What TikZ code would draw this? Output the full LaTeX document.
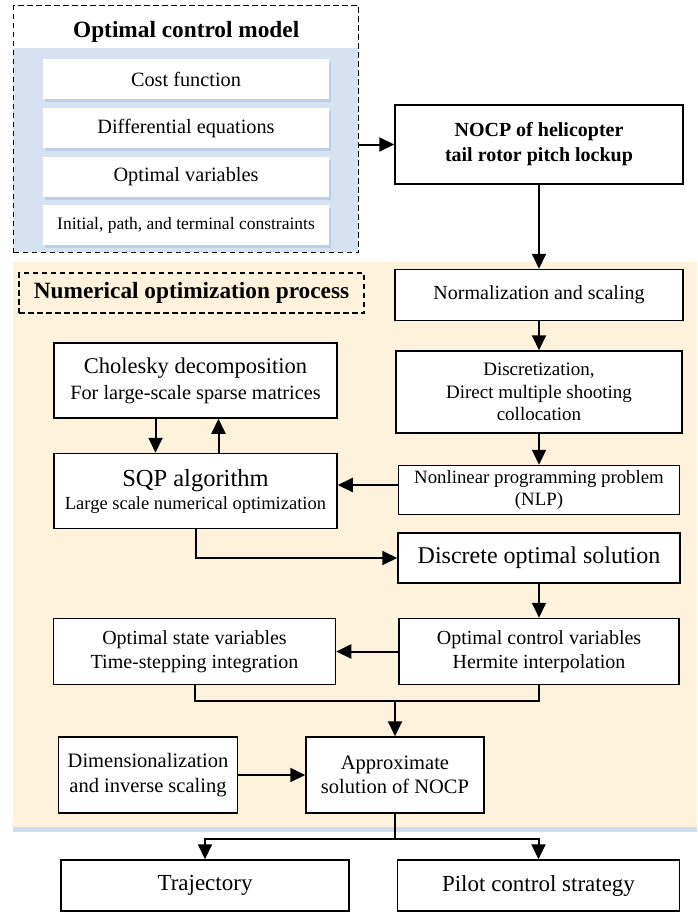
\documentclass[tikz,border=0pt]{standalone}
\usepackage{fontspec}
\setmainfont{Liberation Serif}
\usepackage{xcolor}
\usetikzlibrary{arrows.meta,positioning,calc,shadows,backgrounds}
\definecolor{ModelBlue}{HTML}{D6E1F2}
\definecolor{ProcessCream}{HTML}{FFF2DC}
\definecolor{ShadowBlue}{HTML}{BCCDE8}
\tikzset{
    % Sharp boxes of the flow
    stepbox/.style={
        rectangle,
        draw=black,
        line width=1.5pt,
        fill=white,
        text=black,
        minimum width=283pt,
        minimum height=50pt,
        inner sep=2pt,
        align=center,
        font=\fontsize{20}{23.5}\selectfont
    },
    stepbox bold/.style={
        stepbox,
        font=\fontsize{20}{25}\selectfont\bfseries
    },
    stepbox large/.style={
        stepbox,
        font=\fontsize{23}{27}\selectfont
    },
    model item/.style={
        rectangle,
        draw=none,
        fill=white,
        minimum width=286pt,
        minimum height=40pt,
        inner sep=2pt,
        font=\fontsize{20.3}{24}\selectfont,
        drop shadow={shadow xshift=1.5pt, shadow yshift=-3pt, fill=ShadowBlue, opacity=0.9}
    },
    dashed frame/.style={
        rectangle,
        draw=black,
        line width=1.4pt,
        dash pattern=on 5.5pt off 3.5pt,
        inner sep=2pt,
        font=\fontsize{23.3}{27}\selectfont\bfseries
    },
    area/.style={
        rectangle,
        draw=none,
        inner sep=0pt,
        anchor=north west
    },
    arrow/.style={
        -{Triangle[length=15pt,width=14pt]},
        line width=2pt,
        color=black
    },
    link/.style={
        line width=2pt,
        color=black
    }
}

\begin{document}
\begin{tikzpicture}[x=1pt, y=-1pt]
    \useasboundingbox (0,0) rectangle (697,916);

    % Shaded areas
    \begin{scope}[on background layer]
        \node[area, fill=ModelBlue, minimum width=345pt, minimum height=204pt] (modelarea) at (13,48) {};
        \node[area, fill=ProcessCream, minimum width=684pt, minimum height=565pt,
              drop shadow={shadow xshift=0pt, shadow yshift=-5pt, fill=ShadowBlue, opacity=0.7}] (procarea) at (13,262) {};
    \end{scope}

    % Optimal control model
    \node[dashed frame, anchor=north west, minimum width=345pt, minimum height=247pt] (model) at (13,5) {};
    \node[font=\fontsize{23.3}{27}\selectfont\bfseries, inner sep=2pt, below=14pt of model.north] (modeltitle)
          {Optimal control model};
    \node[model item] (cost) at (186,79) {Cost function};
    \node[model item, below=9pt of cost] (diffeq) {Differential equations};
    \node[model item, below=8pt of diffeq] (optvar) {Optimal variables};
    \node[model item, below=8pt of optvar, font=\fontsize{17.5}{21}\selectfont] (constr)
          {Initial, path, and terminal constraints};

    % Right column
    \node[stepbox bold, minimum width=288pt, minimum height=79pt] (nocp) at (539,144.5)
          {NOCP of helicopter\\tail rotor pitch lockup};
    \node[stepbox, minimum width=288pt, minimum height=51pt, below=84pt of nocp] (norm)
          {Normalization and scaling};
    \node[stepbox, minimum width=286pt, minimum height=82pt, below=29pt of norm,
          font=\fontsize{19}{22.5}\selectfont] (discr)
          {Discretization,\\Direct multiple shooting\\collocation};
    \node[stepbox, minimum width=281pt, minimum height=49pt, below=31pt of discr,
          font=\fontsize{18.8}{22}\selectfont] (nlp)
          {Nonlinear programming problem\\(NLP)};
    \node[stepbox large, minimum width=282pt, minimum height=50pt, below=17pt of nlp,
          font=\fontsize{24}{28}\selectfont] (disc)
          {Discrete optimal solution};
    \node[stepbox, minimum width=280pt, minimum height=66pt, below=34pt of disc] (optctrl)
          {Optimal control variables\\Hermite interpolation};

    % Numerical optimization process
    \node[dashed frame, minimum width=345pt, minimum height=40pt] (numlabel) at (191.5,293)
          {Numerical optimization process};
    \node[stepbox, minimum height=75pt, font=\fontsize{20.3}{26}\selectfont] (chol) at (195.5,380.5)
          {{\fontsize{22.5}{26}\selectfont Cholesky decomposition}\\For large-scale sparse matrices};
    \node[stepbox, minimum height=75pt, below=34pt of chol, font=\fontsize{18.5}{23}\selectfont] (sqp)
          {{\fontsize{24.5}{28}\selectfont SQP algorithm}\\Large scale numerical optimization};
    \node[stepbox, minimum width=282pt, minimum height=66pt, left=62pt of optctrl] (optstate)
          {Optimal state variables\\Time-stepping integration};
    \node[stepbox, minimum width=178pt, minimum height=76pt, font=\fontsize{20.5}{24.5}\selectfont] (approx) at (395,775)
          {Approximate\\solution of NOCP};
    \node[stepbox, minimum width=179pt, minimum height=76pt, left=67pt of approx,
          font=\fontsize{20.5}{24.5}\selectfont] (dim)
          {Dimensionalization\\and inverse scaling};

    % Results
    \node[stepbox large, minimum width=288pt, minimum height=51pt] (traj) at (205,885.5) {Trajectory};
    \node[stepbox large, minimum width=282pt, minimum height=51pt, right=47pt of traj] (pilot)
          {Pilot control strategy};

    % Connectors
    \coordinate[above=35pt of approx.north] (merge);
    \coordinate[below=25pt of approx.south] (split);
    \draw[arrow] (nocp.west -| model.east) -- (nocp.west);
    \draw[arrow] (nocp.south) -- (norm.north);
    \draw[arrow] (norm.south) -- (discr.north);
    \draw[arrow] (discr.south) -- (nlp.north);
    \draw[arrow] ([yshift=5pt]nlp.west) -- ([yshift=5pt]nlp.west -| sqp.east);
    \draw[arrow] ([xshift=-40pt]chol.south) -- ([xshift=-40pt]sqp.north);
    \draw[arrow] ([xshift=23pt]sqp.north) -- ([xshift=23pt]chol.south);
    \draw[arrow] (sqp.south) |- (disc.west);
    \draw[arrow] (disc.south) -- (optctrl.north);
    \draw[arrow] (optctrl.west) -- (optstate.east);
    \draw[link] (optstate.south) |- (merge) -| (optctrl.south);
    \draw[arrow] (merge) -- (approx.north);
    \draw[arrow] (dim.east) -- (approx.west);
    \draw[arrow] (approx.south) -- (split) -| (traj.north);
    \draw[arrow] (split) -| (pilot.north);
\end{tikzpicture}
\end{document}
